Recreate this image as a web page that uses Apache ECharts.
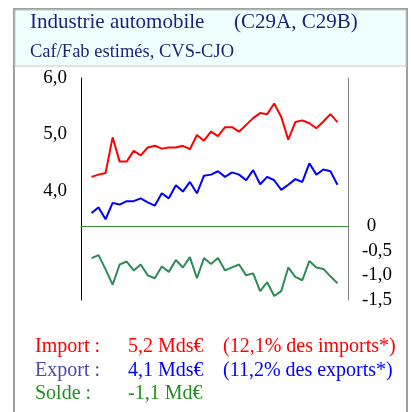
<!DOCTYPE html>
<html>
<head>
<meta charset="utf-8">
<script src="https://cdn.jsdelivr.net/npm/echarts@6/dist/echarts.min.js"></script>
<style>
body { margin: 0; background: #fff; }
#chart { width: 411px; height: 412px; }
</style>
</head>
<body>
<div id="chart"></div>
<script>
// Mds d'euros, 36 mois
var importVals = [4.25, 4.29, 4.32, 4.95, 4.52, 4.52, 4.71, 4.63, 4.77, 4.80, 4.75, 4.77,
	4.77, 4.80, 4.74, 4.99, 4.89, 5.05, 4.97, 5.13, 5.13, 5.05, 5.17, 5.29,
	5.38, 5.36, 5.55, 5.31, 4.91, 5.22, 5.25, 5.20, 5.11, 5.23, 5.36, 5.22];
var exportVals = [3.61, 3.71, 3.50, 3.79, 3.76, 3.82, 3.82, 3.87, 3.80, 3.74, 3.96, 3.87,
	4.10, 3.99, 4.16, 3.96, 4.27, 4.29, 4.35, 4.25, 4.33, 4.29, 4.19, 4.37,
	4.12, 4.25, 4.19, 4.02, 4.11, 4.21, 4.16, 4.49, 4.29, 4.38, 4.35, 4.11];
var soldeVals = [-0.65, -0.59, -0.88, -1.19, -0.78, -0.72, -0.90, -0.78, -1.00, -1.06, -0.82, -0.93,
	-0.69, -0.84, -0.63, -1.06, -0.65, -0.77, -0.65, -0.90, -0.84, -0.78, -1.00, -0.96,
	-1.32, -1.14, -1.42, -1.32, -0.84, -1.03, -1.10, -0.71, -0.84, -0.87, -1.02, -1.16];
var leftTicks = [4, 5, 6];
var rightTicks = [0, -0.5, -1, -1.5];

var serif = 'Liberation Serif';

var toPairs = function (arr) {
	return arr.map(function (v, i) { return [i, v]; });
};
var fmt = function (v) {
	return v.toFixed(1).replace('.', ',');
};

var myChart = echarts.init(document.getElementById('chart'));

var txt = function (x, y, text, color, size) {
	return {
		type: 'text', x: x, y: y, z: 10,
		style: { text: text, fill: color, font: size + 'px "' + serif + '"', textVerticalAlign: 'middle' }
	};
};

var option = {
	animation: false,
	graphic: [
		{ type: 'rect', z: -10, shape: { x: 14, y: 9, width: 393, height: 420 }, style: { fill: '#fff', stroke: '#a0a0a0', lineWidth: 2 } },
		{ type: 'rect', z: -9, shape: { x: 15, y: 10, width: 391, height: 56 }, style: { fill: '#f0ffff', stroke: '#c8c8c8', lineWidth: 1 } },
		txt(30, 22, 'Industrie automobile', '#1f1f7a', 21),
		txt(234, 22, '(C29A, C29B)', '#1f1f7a', 21),
		txt(30, 52, 'Caf/Fab estimés, CVS-CJO', '#1f1f7a', 18.5),
		txt(35, 347, 'Import :', '#ff0000', 20),
		txt(128, 347, '5,2 Mds€', '#ff0000', 20),
		txt(223, 347, '(12,1% des imports*)', '#ff0000', 20),
		txt(35, 371, 'Export :', '#4b4ba6', 20),
		txt(128, 371, '4,1 Mds€', '#0000ff', 20),
		txt(223, 371, '(11,2% des exports*)', '#0000ff', 20),
		txt(35, 394, 'Solde :', '#209020', 20),
		txt(128, 394, '-1,1 Md€', '#209020', 20)
	],
	grid: [
		{ left: 81, right: 63, top: 78, height: 226 },
		{ left: 81, right: 63, top: 78, height: 222 }
	],
	xAxis: [
		{ type: 'value', gridIndex: 0, min: -1.5, max: 36.5, show: false },
		{
			type: 'value', gridIndex: 1, min: -1.5, max: 36.5,
			axisLine: { show: true, onZero: true, lineStyle: { color: '#3a8f3a', width: 1 } },
			axisTick: { show: false }, axisLabel: { show: false }, splitLine: { show: false }
		}
	],
	yAxis: [
		{
			type: 'value', gridIndex: 0, min: 2, max: 6, interval: 1,
			axisLine: { show: false, onZero: false }, axisTick: { show: false }, splitLine: { show: false },
			axisLabel: {
				margin: 14, color: '#000', fontFamily: serif, fontSize: 19,
				formatter: function (v) { return leftTicks.indexOf(v) >= 0 ? fmt(v) : ''; }
			}
		},
		{
			type: 'value', gridIndex: 1, position: 'left', min: -1.5, max: 3, interval: 0.5,
			axisLine: { show: true, onZero: false, lineStyle: { color: '#000', width: 1 } },
			axisTick: { show: false }, axisLabel: { show: false }, splitLine: { show: false }
		},
		{
			type: 'value', gridIndex: 1, position: 'right', min: -1.5, max: 3, interval: 0.5,
			axisLine: { show: true, onZero: false, lineStyle: { color: '#808080', width: 1 } },
			axisTick: { show: false }, splitLine: { show: false },
			axisLabel: {
				margin: 14, color: '#000', fontFamily: serif, fontSize: 19,
				formatter: function (v) {
					if (rightTicks.indexOf(v) < 0) return '';
					return v === 0 ? ' 0' : fmt(v);
				}
			}
		}
	],
	series: [
		{ type: 'line', xAxisIndex: 0, yAxisIndex: 0, data: toPairs(importVals), symbol: 'none', lineStyle: { color: '#ff0000', width: 2 } },
		{ type: 'line', xAxisIndex: 0, yAxisIndex: 0, data: toPairs(exportVals), symbol: 'none', lineStyle: { color: '#0000ff', width: 2 } },
		{ type: 'line', xAxisIndex: 1, yAxisIndex: 2, data: toPairs(soldeVals), symbol: 'none', lineStyle: { color: '#2e8b57', width: 2 } }
	]
};
myChart.setOption(option);
</script>
</body>
</html>
